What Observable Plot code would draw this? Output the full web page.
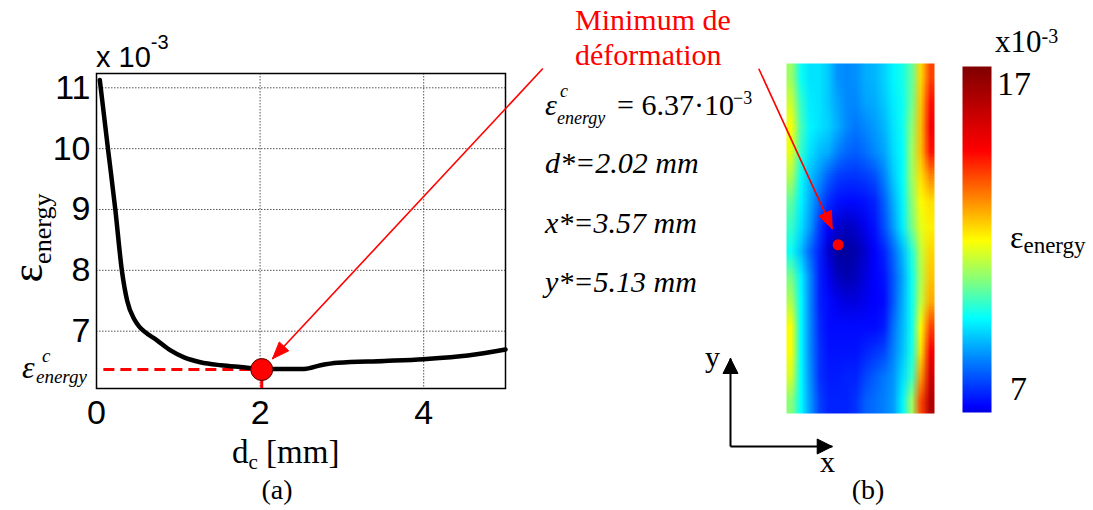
<!DOCTYPE html>
<html><head><meta charset="utf-8">
<script src="https://cdn.jsdelivr.net/npm/d3@7"></script>
<script src="https://cdn.jsdelivr.net/npm/@observablehq/plot@0.6"></script>
<style>
html,body{margin:0;padding:0;background:#fff;}
#fig{position:relative;width:1093px;height:510px;overflow:hidden;background:#fff;}
#fig > svg{position:absolute;overflow:visible;max-width:none;}
.pa g[aria-label$="tick label"], .pa g[aria-label$="tick label"] text{font-size:34px !important;font-family:"Liberation Sans",Arial,sans-serif !important;}
</style></head><body><div id="fig"></div>
<script>
// ---------- data: panel (a) ----------
const dcValues  = [0.04, 0.14, 0.23, 0.31, 0.375, 0.46, 0.52, 0.58, 0.74, 0.91, 1.07, 1.27, 1.52, 1.76, 2.02, 2.54, 2.74, 2.95, 3.52, 4.0, 4.54, 5.0];
const epsValues = [11.13, 10.0, 9.0, 8.0, 7.5, 7.2, 7.08, 7.0, 6.85, 6.68, 6.57, 6.49, 6.44, 6.41, 6.38, 6.38, 6.44, 6.48, 6.51, 6.54, 6.60, 6.70];
const xTicks = [0, 2, 4];
const yTicks = [7, 8, 9, 10, 11];
const dStar = 2.02;
const epsStar = 6.37;
const xDomainA = [0, 5];
const yDomainA = [6.058, 11.235];
const dashStart = 0.09;
// annotation arrow (a): from label to the minimum, in data units of panel (a)
const arrowA = [5.457, 11.316, 2.151, 6.546];

// ---------- data: panel (b) ----------
const heatCols = 16, heatRows = 14;
const heatValues = [
  10.8, 9.4, 9.0, 9.0, 8.7, 8.1, 8.0, 8.1, 8.4, 8.5, 8.8, 9.2, 9.5, 10.2, 12.3, 14.0,
  11.3, 9.8, 9.1, 9.0, 8.7, 8.3, 8.0, 8.0, 8.3, 8.4, 8.7, 9.1, 9.4, 10.3, 12.5, 14.6,
  11.8, 10.0, 9.2, 9.0, 8.8, 8.4, 8.0, 7.8, 8.0, 8.2, 8.5, 9.0, 9.4, 10.6, 12.6, 15.0,
  11.6, 9.8, 9.0, 8.6, 8.4, 7.9, 7.6, 7.5, 7.7, 8.0, 8.3, 8.9, 9.3, 10.8, 12.6, 14.6,
  11.0, 9.4, 8.6, 8.1, 7.5, 7.1, 7.0, 7.0, 7.1, 7.3, 7.9, 8.7, 9.3, 10.8, 12.2, 13.2,
  10.2, 9.2, 8.4, 7.6, 6.9, 6.6, 6.5, 6.5, 6.6, 6.8, 7.5, 8.4, 9.2, 10.6, 11.9, 12.2,
  9.8, 9.0, 8.2, 7.1, 6.4, 6.1, 6.0, 6.1, 6.3, 6.6, 7.3, 8.2, 9.1, 10.4, 11.6, 12.0,
  9.4, 8.6, 7.6, 6.8, 6.1, 5.8, 5.8, 5.9, 6.1, 6.4, 6.8, 7.6, 8.5, 9.6, 11.2, 12.3,
  10.4, 9.2, 8.0, 6.8, 6.3, 6.0, 5.9, 6.0, 6.2, 6.4, 6.6, 7.4, 8.3, 9.4, 11.0, 12.5,
  11.0, 9.3, 8.0, 6.8, 6.5, 6.3, 6.2, 6.2, 6.3, 6.4, 6.5, 7.4, 8.4, 9.4, 11.2, 12.8,
  11.8, 9.3, 8.0, 6.9, 6.5, 6.5, 6.5, 6.5, 6.5, 6.5, 6.7, 7.7, 8.5, 9.4, 11.9, 14.0,
  11.8, 9.3, 8.0, 7.0, 6.6, 6.6, 6.6, 6.6, 6.8, 7.0, 7.2, 7.9, 8.6, 9.5, 12.2, 15.0,
  11.4, 9.3, 8.1, 7.0, 6.7, 6.7, 6.8, 6.8, 7.2, 7.5, 7.8, 8.1, 8.9, 9.8, 13.0, 15.8,
  10.6, 9.3, 8.2, 7.2, 6.8, 6.8, 6.8, 7.0, 7.5, 7.7, 7.9, 8.2, 9.2, 10.8, 14.0, 16.5
];
const heatXmax = 10.23, heatYmax = 10.64;   // mm
const xStar = 3.57, yStar = 5.13;           // mm
const arrowB = [-1.915, 10.48, 3.159, 5.62]; // label -> minimum, mm units of panel (b)
const axisOrigin = [-3.871, -1.003];
const axisYTip = 1.672, axisXTip = 3.159;

// ---------- colour scale (jet-like) ----------
const colorDomain = [5.6, 6.4, 7.9, 9.3, 10.5, 11.85, 13.3, 14.8, 17.57];
const colorRange  = ["#00007f", "#0000ff", "#0080ff", "#00ffff", "#80ff80", "#ffff00", "#ff8000", "#ff0000", "#800000"];
const cbarDomain = [6.2, 17.57];
const colorOpts = {type: "linear", domain: colorDomain, range: colorRange, interpolate: "rgb", clamp: true};

// ---------- helpers ----------
const fig = document.getElementById("fig");
const RED = "#ff0000";
function headPoly(x0, y0, x1, y1, kx, ky, len, half) {
  const dx = (x1 - x0) * kx, dy = -(y1 - y0) * ky;
  const L = Math.hypot(dx, dy), ux = dx / L, uy = dy / L;
  const bx = -ux * len, by = -uy * len;
  const p1 = [bx - uy * half, by + ux * half], p2 = [bx + uy * half, by - ux * half];
  return [[x1, y1], [x1 + p1[0] / kx, y1 - p1[1] / ky], [x1 + p2[0] / kx, y1 - p2[1] / ky], [x1, y1]];
}
function place(svg, left, top) { svg.style.left = left + "px"; svg.style.top = top + "px"; fig.appendChild(svg); }

// ---------- panel (a) ----------
{
  const W = 560, H = 420, ml = 96, mr = 55, mt = 73, mb = 32;
  const kx = (W - ml - mr) / (xDomainA[1] - xDomainA[0]);
  const ky = (H - mt - mb) / (yDomainA[1] - yDomainA[0]);
  const curve = dcValues.map((d, i) => ({dc: d, eps: epsValues[i]}));
  const head = headPoly(...arrowA, kx, ky, 17, 6.5);
  const p = Plot.plot({
    className: "pa",
    width: W, height: H, marginLeft: ml, marginRight: mr, marginTop: mt, marginBottom: mb,
    x: {domain: xDomainA}, y: {domain: yDomainA},
    style: {fontFamily: "'Liberation Sans', Arial, sans-serif", fontSize: "34px", color: "black", background: "transparent", overflow: "visible"},
    marks: [
      Plot.gridX(xTicks, {stroke: "#555", strokeOpacity: 1, strokeWidth: 1, strokeDasharray: "1.5,1.5"}),
      Plot.gridY(yTicks, {stroke: "#555", strokeOpacity: 1, strokeWidth: 1, strokeDasharray: "1.5,1.5"}),
      Plot.axisX(xTicks, {tickSize: 0, tickPadding: 11, label: null, fontSize: 34, tickFormat: d => String(d)}),
      Plot.axisY(yTicks, {tickSize: 0, tickPadding: 6, label: null, fontSize: 34, tickFormat: d => String(d)}),
      Plot.frame({stroke: "black", strokeWidth: 1.5}),
      Plot.ruleY([epsStar], {x1: dashStart, x2: dStar, stroke: RED, strokeWidth: 3, strokeDasharray: "11,6"}),
      Plot.ruleX([dStar], {y1: yDomainA[0], y2: epsStar, stroke: RED, strokeWidth: 3}),
      Plot.line(curve, {x: "dc", y: "eps", stroke: "black", strokeWidth: 4.5, curve: "monotone-x"}),
      Plot.dot([{dc: dStar, eps: epsStar}], {x: "dc", y: "eps", r: 11, fill: RED, stroke: "#500", strokeWidth: 1}),
      Plot.link([arrowA], {x1: d => d[0], y1: d => d[1], x2: d => d[2], y2: d => d[3], stroke: RED, strokeWidth: 1.6, clip: false}),
      Plot.line(head, {x: d => d[0], y: d => d[1], fill: RED, stroke: RED, strokeWidth: 1, clip: false})
    ]
  });
  place(p, 0, 0);
}

// ---------- panel (b) heat map ----------
{
  const W = 260, H = 510, ml = 96, mr = 16, mt = 63, mb = 97;
  const kx = (W - ml - mr) / heatXmax, ky = (H - mt - mb) / heatYmax;
  const headB = headPoly(...arrowB, kx, ky, 17, 7);
  const axY = headPoly(axisOrigin[0], axisOrigin[1], axisOrigin[0], axisYTip, kx, ky, 15, 7.5);
  const axX = headPoly(axisOrigin[0], axisOrigin[1], axisXTip, axisOrigin[1], kx, ky, 15, 7.5);
  const axisLines = [
    [axisOrigin[0], axisOrigin[1], axisOrigin[0], axisYTip],
    [axisOrigin[0], axisOrigin[1], axisXTip, axisOrigin[1]]
  ];
  const p = Plot.plot({
    width: W, height: H, marginLeft: ml, marginRight: mr, marginTop: mt, marginBottom: mb,
    x: {domain: [0, heatXmax], axis: null}, y: {domain: [0, heatYmax], axis: null},
    color: colorOpts,
    style: {background: "transparent", overflow: "visible"},
    marks: [
      Plot.raster(heatValues, {width: heatCols, height: heatRows, x1: 0, x2: heatXmax, y1: heatYmax, y2: 0, fill: d => d, imageRendering: "auto"}),
      Plot.dot([{x: xStar, y: yStar}], {x: "x", y: "y", r: 5.5, fill: RED}),
      Plot.link([arrowB], {x1: d => d[0], y1: d => d[1], x2: d => d[2], y2: d => d[3], stroke: RED, strokeWidth: 1.6, clip: false}),
      Plot.line(headB, {x: d => d[0], y: d => d[1], fill: RED, stroke: RED, strokeWidth: 1, clip: false}),
      Plot.link(axisLines, {x1: d => d[0], y1: d => d[1], x2: d => d[2], y2: d => d[3], stroke: "black", strokeWidth: 2, clip: false}),
      Plot.line(axY, {x: d => d[0], y: d => d[1], fill: "black", stroke: "black", strokeWidth: 1, clip: false}),
      Plot.line(axX, {x: d => d[0], y: d => d[1], fill: "black", stroke: "black", strokeWidth: 1, clip: false})
    ]
  });
  place(p, 690, 0);
}

// ---------- colour bar ----------
{
  const p = Plot.plot({
    width: 143, height: 510, marginLeft: 12, marginRight: 102, marginTop: 66, marginBottom: 98,
    x: {domain: [0, 1], axis: null}, y: {domain: cbarDomain, axis: null},
    color: colorOpts,
    style: {background: "transparent", overflow: "visible"},
    marks: [
      Plot.raster({x1: 0, x2: 1, y1: cbarDomain[1], y2: cbarDomain[0], fill: (x, y) => y, pixelSize: 1})
    ]
  });
  place(p, 950, 0);
}

// ---------- text ----------
const serif = "Liberation Serif, Times New Roman, serif";
const sans = "Liberation Sans, Arial, sans-serif";
fig.insertAdjacentHTML("beforeend", `
<svg width="1093" height="510" style="left:0;top:0;pointer-events:none" font-family="${serif}" fill="black">
  <text x="96" y="67" font-family="${sans}" font-size="29">x 10<tspan font-size="20" dy="-18">-3</tspan></text>
  <text transform="translate(42,238) rotate(-90)" text-anchor="middle" font-size="44">ε<tspan font-size="26" dy="9">energy</tspan></text>
  <g font-style="italic">
    <text x="22" y="378" font-size="32">ε</text>
    <text x="42" y="362" font-size="19">c</text>
    <text x="36" y="383" font-size="19">energy</text>
  </g>
  <text x="232" y="463" font-size="33">d<tspan font-size="21" dy="6">c</tspan><tspan font-size="33" dy="-6"> [mm]</tspan></text>
  <text x="277" y="499" font-size="28" text-anchor="middle">(a)</text>
  <text x="575" y="30" font-size="30" fill="#ff0000">Minimum de</text>
  <text x="575" y="65" font-size="30" fill="#ff0000">déformation</text>
  <g>
    <text x="545" y="115" font-size="30" font-style="italic">ε</text>
    <text x="560" y="97" font-size="18" font-style="italic">c</text>
    <text x="557" y="124" font-size="18" font-style="italic">energy</text>
    <text x="617" y="115" font-size="30">= 6.37·10</text>
    <text x="733" y="104" font-size="18">−3</text>
  </g>
  <g font-style="italic" font-size="30">
    <text x="545" y="173">d*=2.02 mm</text>
    <text x="545" y="233">x*=3.57 mm</text>
    <text x="545" y="292">y*=5.13 mm</text>
  </g>
  <text x="705" y="367" font-size="30">y</text>
  <text x="820" y="472" font-size="30">x</text>
  <text x="868" y="499" font-size="28" text-anchor="middle">(b)</text>
  <text x="995" y="52" font-size="31">x10<tspan font-size="20" dy="-9">-3</tspan></text>
  <text x="997" y="95" font-size="34">17</text>
  <text x="1010" y="400" font-size="34">7</text>
  <text x="1010" y="248" font-size="32">ε<tspan font-size="23" dy="5">energy</tspan></text>
</svg>`);
</script></body></html>
